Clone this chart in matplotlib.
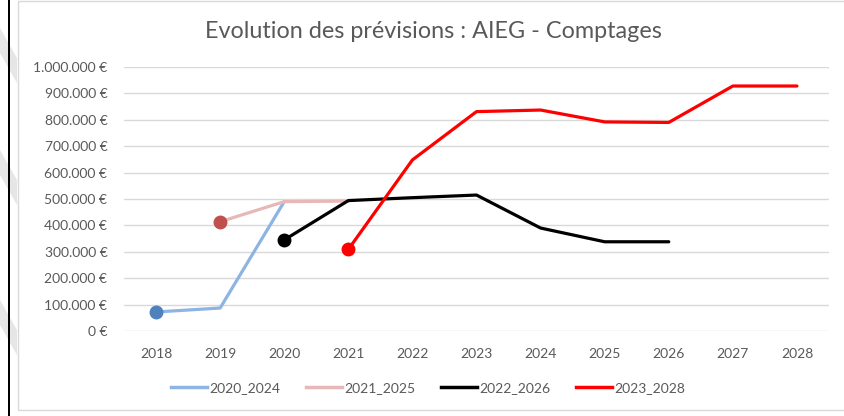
import numpy as np
import matplotlib.pyplot as plt
from matplotlib.patches import Rectangle, Polygon
from matplotlib.ticker import FuncFormatter

plt.rcParams['font.family'] = ['Lato', 'DejaVu Sans']

# Data
years = ["2018", "2019", "2020", "2021", "2022", "2023", "2024", "2025", "2026", "2027", "2028"]
nan = np.nan
s_2020_2024 = [72000, 87000, 490000, nan, nan, nan, nan, nan, nan, nan, nan]
s_2021_2025 = [nan, 414000, 490000, 492000, nan, nan, nan, nan, nan, nan, nan]
s_2022_2026 = [nan, nan, 345000, 494000, 505000, 515000, 390000, 338000, 338000, nan, nan]
s_2023_2028 = [nan, nan, nan, 309000, 648000, 831000, 837000, 792000, 790000, 928000, 928000]

series = [
    ("2020_2024", s_2020_2024, "#8DB4E2", "#4F81BD"),
    ("2021_2025", s_2021_2025, "#E6B9B8", "#C0504D"),
    ("2022_2026", s_2022_2026, "#000000", "#000000"),
    ("2023_2028", s_2023_2028, "#FF0000", "#FF0000"),
]

W, H = 845, 416
fig = plt.figure(figsize=(W / 100, H / 100), dpi=100)
fig.patch.set_facecolor("white")

# page decorations: grey diagonal stripes and black margin line
for y0 in (28, 150, 300):
    fig.patches.append(Polygon(
        [(0, 1 - y0 / H), (0, 1 - (y0 + 25) / H), (17 / W, 1 - (y0 + 55) / H), (17 / W, 1 - (y0 + 30) / H)],
        closed=True, transform=fig.transFigure, facecolor="#E6E6E6", edgecolor="none", zorder=0))
fig.patches.append(Rectangle((8 / W, 0), 2 / W, 1, transform=fig.transFigure,
                             facecolor="black", edgecolor="none", zorder=1))
# chart area border
fig.patches.append(Rectangle((17.5 / W, 1 - 409.5 / H), (W - 17) / W, 409 / H,
                             transform=fig.transFigure, facecolor="none",
                             edgecolor="#D9D9D9", lw=1, zorder=1))

ax = fig.add_axes([124 / W, (H - 331) / H, (829 - 124) / W, (331 - 67) / H])
x = np.arange(len(years))

for name, vals, col, mcol in series:
    vals = np.array(vals, dtype=float)
    ax.plot(x, vals, color=col, lw=2.3, label=name, solid_capstyle="round", zorder=3)
    first = np.where(~np.isnan(vals))[0][0]
    ax.plot(x[first], vals[first], "o", color=mcol, ms=9, zorder=4)

ax.set_xlim(-0.5, len(years) - 0.5)
ax.set_ylim(0, 1000000)
ax.set_yticks(np.arange(0, 1000001, 100000))
ax.yaxis.set_major_formatter(FuncFormatter(lambda v, p: f"{int(v):,} €".replace(",", ".")))
ax.set_xticks(x)
ax.set_xticklabels(years)
ax.grid(axis="y", color="#D9D9D9", lw=1)
ax.set_axisbelow(True)
for sp in ax.spines.values():
    sp.set_visible(False)
ax.tick_params(length=0, labelsize=10, colors="#595959")
ax.tick_params(axis="y", pad=12)
ax.tick_params(axis="x", pad=12)

fig.text(433 / W, 1 - 31 / H, "Evolution des prévisions : AIEG - Comptages",
         ha="center", va="center", fontsize=16.8, color="#595959")

handles = [plt.Line2D([], [], color=c, lw=2.5) for _, _, c, _ in series]
leg = fig.legend(handles, [s[0] for s in series], loc="center", ncol=4,
                 bbox_to_anchor=(428 / W, 1 - 388 / H), frameon=False,
                 fontsize=10, handlelength=2.6, handletextpad=0.2, columnspacing=1.8)
for t in leg.get_texts():
    t.set_color("#595959")

fig.savefig("out.png", dpi=100)
